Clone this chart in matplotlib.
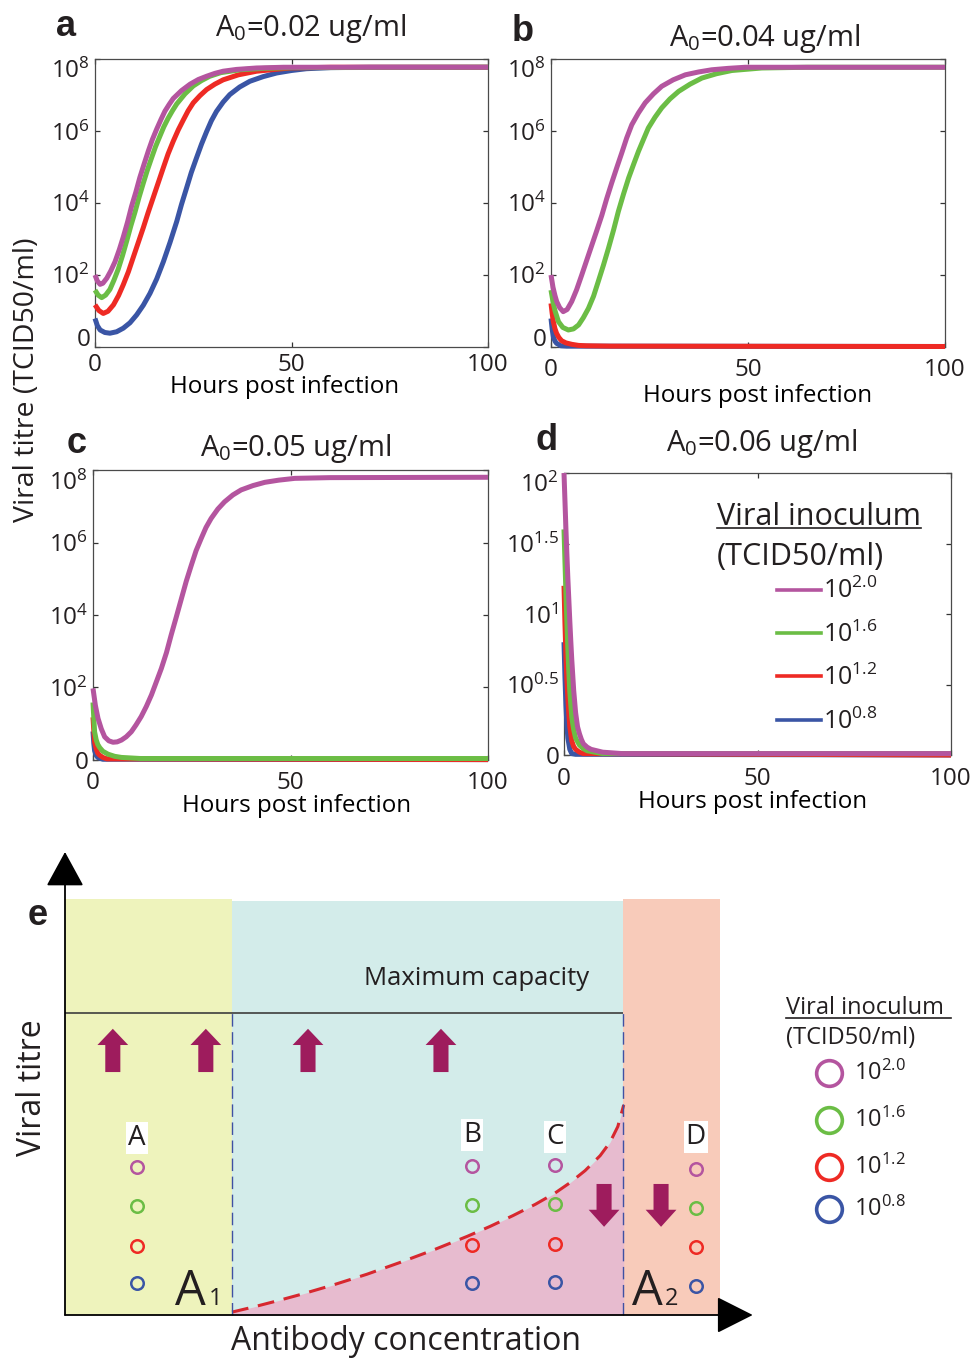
import matplotlib
matplotlib.use('Agg')
import matplotlib.pyplot as plt
from matplotlib.lines import Line2D

plt.rcParams['font.family'] = ['Open Sans', 'DejaVu Sans']
plt.rcParams['mathtext.fontset'] = 'custom'
plt.rcParams['mathtext.rm'] = 'Open Sans'
plt.rcParams['mathtext.it'] = 'Open Sans:italic'
plt.rcParams['mathtext.bf'] = 'Open Sans:bold'
plt.rcParams['text.color'] = '#231f20'

W, H, DPI = 973, 1358, 100

# ------------------------------------------------------------------ data
inoculum_labels = [r'$10^{2.0}$', r'$10^{1.6}$', r'$10^{1.2}$', r'$10^{0.8}$']
series_colors = ['#B4559F', '#6BBD45', '#EE2A24', '#3A55A5']   # purple, green, red, blue
panel_titles = [r'A$_0$=0.02 ug/ml', r'A$_0$=0.04 ug/ml', r'A$_0$=0.05 ug/ml', r'A$_0$=0.06 ug/ml']
panel_letters = ['a', 'b', 'c', 'd']
x_ticks = [0, 50, 100]
y_ticks_abc = [0, 2, 4, 6, 8]
y_ticklabels_abc = ['0', r'$10^{2}$', r'$10^{4}$', r'$10^{6}$', r'$10^{8}$']
y_ticks_d = [0, 0.5, 1, 1.5, 2]
y_ticklabels_d = ['0', r'$10^{0.5}$', r'$10^{1}$', r'$10^{1.5}$', r'$10^{2}$']

# log10 viral titre vs hours post infection
a_purple_t = [0, 0.6, 1.3, 2.0, 3.0, 4.0, 5.1, 6.2, 7.2, 8.3, 9.3, 10.4, 11.4, 12.5, 13.6, 14.6, 15.7, 16.8,
              17.8, 18.9, 19.9, 22.0, 24.2, 26.3, 28.4, 30.5, 32.6, 36.0, 41.1, 48, 60, 100]
a_purple_v = [1.99, 1.82, 1.73, 1.76, 1.90, 2.10, 2.36, 2.70, 3.05, 3.47, 3.90, 4.30, 4.70, 5.08, 5.45, 5.76,
              6.05, 6.32, 6.55, 6.74, 6.90, 7.12, 7.30, 7.43, 7.52, 7.60, 7.66, 7.71, 7.75, 7.77, 7.77, 7.77]
a_green_t = [0, 0.8, 1.7, 2.7, 3.8, 4.8, 5.9, 7.0, 8.1, 9.1, 10.2, 11.2, 12.3, 13.3, 14.4, 15.4, 16.5, 17.5,
             18.6, 19.7, 20.8, 22.9, 25.0, 27.1, 29.2, 32, 36.9, 43, 50, 100]
a_green_v = [1.57, 1.43, 1.36, 1.43, 1.59, 1.84, 2.15, 2.53, 2.95, 3.35, 3.75, 4.15, 4.55, 4.9, 5.25, 5.56,
             5.85, 6.11, 6.35, 6.56, 6.75, 7.03, 7.25, 7.40, 7.52, 7.62, 7.70, 7.74, 7.76, 7.77]
a_red_t = [0, 1.0, 2.1, 3.3, 4.7, 6.0, 7.2, 8.5, 9.7, 11.0, 12.3, 13.5, 14.8, 16.1, 17.4, 18.6, 19.9, 21.2,
           22.5, 23.7, 25.0, 26.7, 28.4, 30.5, 32.6, 36.5, 41.1, 49.6, 60, 100]
a_red_v = [1.16, 1.0, 0.92, 0.98, 1.16, 1.42, 1.72, 2.08, 2.47, 2.89, 3.31, 3.72, 4.14, 4.56, 4.98, 5.36,
           5.71, 6.03, 6.31, 6.56, 6.78, 6.98, 7.15, 7.30, 7.42, 7.56, 7.66, 7.75, 7.77, 7.77]
a_blue_t = [0, 0.6, 1.3, 2.5, 3.8, 5.5, 7.2, 8.9, 10.6, 12.3, 14.0, 15.7, 17.4, 19.1, 20.8, 22.0, 23.3, 24.5,
            25.8, 27.1, 28.4, 29.6, 30.9, 32.6, 34.3, 36.8, 39.4, 42.8, 46.2, 50, 53.8, 60, 70, 100]
a_blue_v = [0.78, 0.58, 0.46, 0.39, 0.37, 0.41, 0.51, 0.66, 0.88, 1.15, 1.48, 1.88, 2.36, 2.9, 3.48, 3.95,
            4.41, 4.84, 5.24, 5.63, 5.98, 6.28, 6.54, 6.80, 7.01, 7.22, 7.38, 7.51, 7.61, 7.68, 7.73, 7.76,
            7.77, 7.77]

b_purple_t = [0, 0.5, 1.0, 1.45, 2.2, 3.1, 4.1, 5.25, 6.5, 7.8, 9.0, 10.3, 11.6, 12.9, 14.1, 15.4, 16.7,
              18.0, 19.2, 20.5, 22.2, 23.9, 26.0, 28.1, 31, 34.1, 37.5, 40.8, 45, 49.3, 60, 100]
b_purple_v = [1.99, 1.65, 1.42, 1.25, 1.08, 0.97, 1.03, 1.25, 1.58, 1.99, 2.38, 2.80, 3.22, 3.65, 4.1, 4.55,
              4.98, 5.40, 5.80, 6.17, 6.5, 6.78, 7.03, 7.24, 7.42, 7.56, 7.64, 7.70, 7.74, 7.77, 7.77, 7.77]
b_green_t = [0, 0.5, 1.0, 1.9, 3.0, 4.4, 5.7, 7.0, 8.2, 9.5, 10.8, 12.0, 13.3, 14.6, 15.9, 17.1, 18.4,
             19.7, 21.0, 22.2, 23.5, 24.7, 26.4, 28.1, 30.2, 32.4, 35.3, 38.3, 42, 45.9, 53.5, 65, 100]
b_green_v = [1.57, 1.25, 1.0, 0.69, 0.53, 0.46, 0.49, 0.60, 0.80, 1.06, 1.40, 1.81, 2.26, 2.74, 3.25, 3.76,
             4.24, 4.69, 5.08, 5.43, 5.77, 6.08, 6.38, 6.64, 6.89, 7.10, 7.30, 7.47, 7.59, 7.68, 7.75,
             7.77, 7.77]
b_red_t = [0, 0.3, 0.6, 1.0, 1.4, 2.0, 2.7, 3.8, 5.3, 7, 9, 15, 100]
b_red_v = [1.2, 0.92, 0.69, 0.5, 0.37, 0.25, 0.16, 0.1, 0.06, 0.03, 0.02, 0.01, 0.0]
b_blue_t = [0, 0.3, 0.6, 1.0, 1.4, 2.5, 4, 100]
b_blue_v = [0.78, 0.48, 0.27, 0.15, 0.09, 0.02, 0.01, 0.0]

c_purple_t = [0, 0.6, 1.27, 2.1, 2.95, 4.0, 5.06, 6.1, 7.2, 8.4, 9.7, 10.9, 12.2, 13.5, 14.8, 16.0, 17.3,
              18.6, 19.8, 21.1, 22.4, 23.6, 24.9, 26.1, 27.4, 28.6, 29.9, 31.6, 33.3, 35.4, 37.5, 40.5,
              43.5, 47, 51.1, 60, 100]
c_purple_v = [1.97, 1.5, 1.14, 0.85, 0.63, 0.52, 0.48, 0.49, 0.54, 0.63, 0.77, 0.96, 1.19, 1.47, 1.79,
              2.14, 2.52, 2.96, 3.45, 3.95, 4.46, 4.93, 5.38, 5.78, 6.12, 6.42, 6.67, 6.93, 7.13, 7.32,
              7.46, 7.58, 7.67, 7.73, 7.78, 7.80, 7.81]
c_green_t = [0, 0.2, 0.4, 0.8, 1.2, 1.7, 2.5, 3.8, 5.5, 7.2, 12, 100]
c_green_v = [1.58, 1.15, 0.77, 0.55, 0.42, 0.33, 0.23, 0.15, 0.09, 0.06, 0.03, 0.03]
c_red_t = [0, 0.2, 0.4, 0.8, 1.2, 1.7, 2.5, 3.5, 100]
c_red_v = [1.17, 0.8, 0.49, 0.3, 0.18, 0.12, 0.06, 0.02, 0.0]
c_blue_t = [0, 0.2, 0.4, 0.8, 1.2, 2.5, 100]
c_blue_v = [0.78, 0.45, 0.25, 0.12, 0.06, 0.01, 0.0]

d_purple_t = [0, 0.25, 0.5, 0.75, 1.0, 1.25, 1.5, 1.75, 2.0, 2.5, 3.0, 3.5, 4.0, 4.5, 5.0, 6.0, 7.0,
              8.5, 10, 12.5, 15, 100]
d_purple_v = [2.0, 1.8, 1.6, 1.42, 1.25, 1.1, 0.95, 0.81, 0.68, 0.46, 0.30, 0.2, 0.15, 0.11, 0.08, 0.055,
              0.04, 0.03, 0.02, 0.015, 0.01, 0.01]
d_green_t = [0, 0.25, 0.5, 0.75, 1.0, 1.25, 1.5, 2.0, 2.5, 3.0, 4.0, 5.0, 6.0, 8, 10, 100]
d_green_v = [1.6, 1.37, 1.15, 0.94, 0.75, 0.59, 0.45, 0.27, 0.18, 0.12, 0.07, 0.045, 0.03, 0.02, 0.01, 0.01]
d_red_t = [0, 0.25, 0.5, 0.75, 1.0, 1.25, 1.5, 2.0, 2.5, 3.0, 4.0, 5.0, 100]
d_red_v = [1.2, 0.93, 0.7, 0.53, 0.4, 0.29, 0.2, 0.1, 0.06, 0.04, 0.02, 0.01, 0.0]
d_blue_t = [0, 0.25, 0.5, 0.75, 1.0, 1.5, 2.0, 3, 100]
d_blue_v = [0.8, 0.55, 0.35, 0.21, 0.12, 0.04, 0.01, 0.005, 0.0]

# panel e schematic (arbitrary units: antibody concentration 0-100, viral titre 0-100)
e_region_edges = [0, 25.5, 85.2, 100]
e_region_tops = [100, 99.5, 100]
e_region_colors = ['#EEF3BC', '#D3ECEA', '#F8CBBA']
e_max_capacity = 72.6
e_threshold_x = [25.5, 28.7, 32.4, 35.9, 40.9, 46.1, 51.1, 56.2, 61.4, 64.9, 68.4, 71.8, 74.8, 77.1,
                 79.4, 81.7, 83.2, 84.4, 85.3]
e_threshold_y = [0.7, 1.9, 3.4, 4.9, 7.2, 9.8, 12.6, 15.6, 18.9, 21.3, 23.9, 26.6, 29.3, 31.8,
                 34.7, 38.3, 41.5, 45.3, 50.5]
e_up_arrow_x = [7.3, 21.5, 37.1, 57.4]
e_down_arrow_x = [82.3, 91.0]
e_group_labels = ['A', 'B', 'C', 'D']
e_group_x = [11.0, 62.1, 74.8, 96.3]
e_group_label_y = [42.5, 43.3, 42.8, 42.8]
e_group_y = [[35.6, 26.2, 16.6, 7.7],
             [35.8, 26.4, 16.8, 7.8],
             [36.1, 26.7, 17.1, 7.9],
             [35.1, 25.7, 16.3, 7.0]]
e_legend_y = [58.2, 46.9, 35.6, 25.5]

# ------------------------------------------------------------------ helpers
fig = plt.figure(figsize=(W / DPI, H / DPI), dpi=DPI)


def add_ax(L, T, R, B):
    return fig.add_axes([L / W, 1 - B / H, (R - L) / W, (B - T) / H])


def fpx(x, y):
    return x / W, 1 - y / H


panel_rects = [(95, 59, 488, 346.5), (551, 59, 945, 346.5),
               (93, 470.4, 488, 759.6), (564, 473, 951, 755)]
panel_series = [
    [(a_blue_t, a_blue_v), (a_red_t, a_red_v), (a_green_t, a_green_v), (a_purple_t, a_purple_v)],
    [(b_blue_t, b_blue_v), (b_red_t, b_red_v), (b_green_t, b_green_v), (b_purple_t, b_purple_v)],
    [(c_blue_t, c_blue_v), (c_red_t, c_red_v), (c_green_t, c_green_v), (c_purple_t, c_purple_v)],
    [(d_blue_t, d_blue_v), (d_red_t, d_red_v), (d_green_t, d_green_v), (d_purple_t, d_purple_v)],
]
draw_colors = series_colors[::-1]  # blue, red, green, purple drawn in this order
xpad = [5, 8.5, 8.5, 8.5]
xlabel_pos = [(0.483, -0.099), (0.525, -0.130), (0.516, -0.119), (0.486, -0.124)]
letter_pos = [(66, 36), (523, 41), (77, 453), (547, 450)]
title_pos = [(311, 36), (765, 46), (296, 456), (762, 451)]

axes = []
for i, rect in enumerate(panel_rects):
    ax = add_ax(*rect)
    axes.append(ax)
    for (t, v), c in zip(panel_series[i], draw_colors):
        ax.plot(t, v, color=c, lw=3.6, solid_joinstyle='round', solid_capstyle='butt',
                clip_on=False, zorder=3)
    ax.set_xlim(0, 100)
    ax.set_xticks(x_ticks)
    ax.set_xticklabels([str(x) for x in x_ticks])
    if i < 3:
        ax.set_ylim(0, 8)
        ax.set_yticks(y_ticks_abc)
        labs = ax.set_yticklabels(y_ticklabels_abc)
    else:
        ax.set_ylim(0, 2)
        ax.set_yticks(y_ticks_d)
        labs = ax.set_yticklabels(y_ticklabels_d)
    labs[-1].set_va('top')
    if i < 2:
        labs[0].set_va('baseline')
    ax.tick_params(direction='in', length=3.6, width=0.9, top=True, right=True,
                   labelsize=17.5, color='#333333', labelcolor='#231f20')
    ax.tick_params(axis='y', pad=3.5)
    ax.tick_params(axis='x', pad=xpad[i])
    for s in ax.spines.values():
        s.set_color('#4a4a4a')
        s.set_linewidth(0.9)
    ax.set_xlabel('Hours post infection', fontsize=17.4)
    ax.xaxis.set_label_coords(*xlabel_pos[i])
    fig.text(*fpx(*letter_pos[i]), panel_letters[i], fontsize=26, fontweight='bold',
             family='Liberation Sans', ha='center', va='baseline')
    fig.text(*fpx(*title_pos[i]), panel_titles[i], fontsize=21, ha='center', va='baseline')

fig.text(*fpx(27, 380), 'Viral titre (TCID50/ml)', fontsize=20.5, rotation=90,
         ha='center', va='center')

# legend in panel d
axd = axes[3]
handles = [Line2D([], [], color=c, lw=2.6) for c in series_colors]
axd.legend(handles, inoculum_labels, loc='upper left', bbox_to_anchor=((777 - 564) / 387, (755 - 578) / 282),
           frameon=False, fontsize=18, handlelength=1.75, handletextpad=0.1,
           labelspacing=0.68, borderpad=0, borderaxespad=0)
t1 = fig.text(*fpx(717, 525), 'Viral inoculum', fontsize=22, ha='left', va='baseline')
fig.text(*fpx(717, 565), '(TCID50/ml)', fontsize=22, ha='left', va='baseline')

# ------------------------------------------------------------------ panel e
axe = fig.add_axes([0, 0, 1, 518 / H])
axe.set_xlim(-65 / 6.55, (973 - 65) / 6.55)
axe.set_ylim((1315 - 1358) / 4.16, (1315 - 840) / 4.16)
axe.axis('off')

for x0, x1, top, c in zip(e_region_edges[:-1], e_region_edges[1:], e_region_tops, e_region_colors):
    axe.fill_between([x0, x1], [0, 0], [top, top], color=c, lw=0, zorder=1)
axe.fill_between(e_threshold_x, 0, e_threshold_y, color='#E7BBCF', lw=0, zorder=2)
axe.plot(e_threshold_x, e_threshold_y, color='#D7282F', lw=2.2, dashes=(5.5, 3.2), zorder=4)
axe.vlines(e_region_edges[1:3], 0, e_max_capacity, color='#3F51A3', lw=1.0,
           linestyles=(0, (9, 4)), zorder=4)
axe.hlines(e_max_capacity, 0, e_region_edges[2], color='#3d3d3d', lw=1.2, zorder=4)
axe.text(62.9, 81.0, 'Maximum capacity', fontsize=18.5, ha='center', va='center', zorder=5)

for x in e_up_arrow_x:
    axe.arrow(x, 58.4, 0, 10.4, width=2.3, head_width=4.7, head_length=3.9,
              length_includes_head=True, color='#9E1C5D', lw=0, zorder=5)
for x in e_down_arrow_x:
    axe.arrow(x, 31.5, 0, -10.3, width=2.3, head_width=4.7, head_length=4.1,
              length_includes_head=True, color='#9E1C5D', lw=0, zorder=5)

for lab, gx, ly, ys in zip(e_group_labels, e_group_x, e_group_label_y, e_group_y):
    axe.text(gx, ly, lab, fontsize=20, ha='center', va='center', zorder=6,
             bbox=dict(facecolor='white', edgecolor='none', pad=1.5))
    for yy, c in zip(ys, series_colors):
        axe.plot([gx], [yy], 'o', ms=9, mfc='none', mec=c, mew=1.8, zorder=6)

# A1 / A2 labels
axe.text(16.8, 2.4, 'A', fontsize=35, ha='left', va='baseline', zorder=6)
axe.text(22.0, 2.4, '1', fontsize=17, ha='left', va='baseline', zorder=6)
axe.text(86.6, 2.4, 'A', fontsize=35, ha='left', va='baseline', zorder=6)
axe.text(91.6, 2.4, '2', fontsize=17, ha='left', va='baseline', zorder=6)

# axes arrows
axe.annotate('', xy=(0, 111.3), xytext=(0, 0),
             arrowprops=dict(arrowstyle='-|>,head_length=1.1,head_width=0.6', mutation_scale=20,
                             lw=1.3, color='black', shrinkA=0, shrinkB=0), zorder=7)
axe.annotate('', xy=(105.0, 0), xytext=(0, 0),
             arrowprops=dict(arrowstyle='-|>,head_length=1.15,head_width=0.58', mutation_scale=20,
                             lw=1.3, color='black', shrinkA=0, shrinkB=0), zorder=7)

axe.text(-5.0, 54.6, 'Viral titre', fontsize=23, rotation=90, ha='center', va='center')
axe.text(52.1, -6.25, 'Antibody concentration', fontsize=23, ha='center', va='center')
axe.text(-4.1, (1315 - 925) / 4.16, 'e', fontsize=26, fontweight='bold', family='Liberation Sans',
         ha='center', va='baseline')

# legend in panel e
t2 = axe.text(110.1, 73.8, 'Viral inoculum', fontsize=17, ha='left', va='center')
axe.text(110.1, 66.6, '(TCID50/ml)', fontsize=17, ha='left', va='center')
for yy, c, lab in zip(e_legend_y, series_colors, inoculum_labels):
    axe.plot([116.6], [yy], 'o', ms=18.5, mfc='none', mec=c, mew=2.6)
    axe.text(120.5, yy, lab, fontsize=17, ha='left', va='center')

# underlines for the two legend titles
fig.canvas.draw()
r = fig.canvas.get_renderer()
bb1 = t1.get_window_extent(r)
fig.add_artist(Line2D([bb1.x0 / W, bb1.x1 / W], [1 - 528 / H, 1 - 528 / H], color='#231f20', lw=1.2))
bb2 = t2.get_window_extent(r)
fig.add_artist(Line2D([bb2.x0 / W, (bb2.x1 + 7) / W], [1 - 1018 / H, 1 - 1018 / H], color='#231f20', lw=1.2))

fig.savefig('out.png', dpi=DPI)
